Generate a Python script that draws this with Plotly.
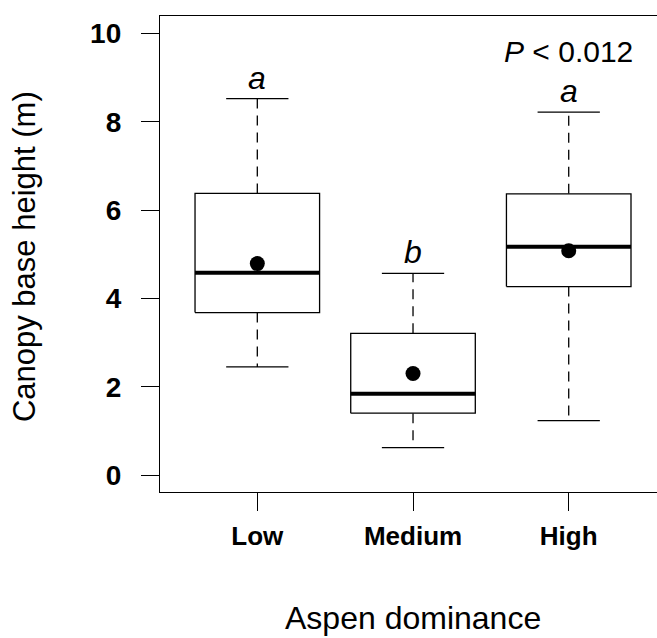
import plotly.graph_objects as go

# Data
categories = ["Low", "Medium", "High"]
lower_whisker = [2.45, 0.62, 1.23]
q1 = [3.68, 1.40, 4.27]
median = [4.58, 1.84, 5.17]
q3 = [6.38, 3.21, 6.37]
upper_whisker = [8.53, 4.57, 8.22]
means = [4.79, 2.30, 5.08]
letters = ["a", "b", "a"]
y_ticks = [0, 2, 4, 6, 8, 10]

BOXW = 0.4   # half box width
CAPW = 0.2   # half cap width

fig = go.Figure()
for i, cat in enumerate(categories):
    x = i + 1
    # dashed whiskers
    fig.add_trace(go.Scatter(x=[x, x, None, x, x],
                             y=[q3[i], upper_whisker[i], None, q1[i], lower_whisker[i]],
                             mode="lines", line=dict(color="black", width=1.3, dash="10px,7px"),
                             hoverinfo="skip", showlegend=False))
    # caps
    fig.add_trace(go.Scatter(x=[x - CAPW, x + CAPW, None, x - CAPW, x + CAPW],
                             y=[upper_whisker[i], upper_whisker[i], None, lower_whisker[i], lower_whisker[i]],
                             mode="lines", line=dict(color="black", width=1.3),
                             hoverinfo="skip", showlegend=False))
    # box
    fig.add_trace(go.Scatter(x=[x - BOXW, x + BOXW, x + BOXW, x - BOXW, x - BOXW],
                             y=[q1[i], q1[i], q3[i], q3[i], q1[i]],
                             mode="lines", line=dict(color="black", width=1.3),
                             fill="toself", fillcolor="white",
                             hoverinfo="skip", showlegend=False))
    # median
    fig.add_trace(go.Scatter(x=[x - BOXW, x + BOXW], y=[median[i], median[i]],
                             mode="lines", line=dict(color="black", width=4),
                             hoverinfo="skip", showlegend=False))

# means
fig.add_trace(go.Scatter(x=[1, 2, 3], y=means, mode="markers",
                         marker=dict(color="black", size=15), showlegend=False))

font_family = "Liberation Sans, Arial, sans-serif"

for i, lt in enumerate(letters):
    fig.add_annotation(x=i + 1, y=upper_whisker[i], text="<i>%s</i>" % lt,
                       showarrow=False, yanchor="bottom", yshift=1,
                       font=dict(size=32, family=font_family, color="black"))

fig.add_annotation(x=3, y=9.6, text="<i>P</i> < 0.012", showarrow=False,
                   yanchor="middle", font=dict(size=30, family=font_family, color="black"))

fig.add_annotation(x=2, y=0, yref="paper", text="Aspen dominance", showarrow=False,
                   yanchor="middle", yshift=-126, borderpad=0,
                   font=dict(size=32, family=font_family, color="black"))

fig.add_annotation(x=0, xref="paper", y=5.05, text="Canopy base height (m)", showarrow=False,
                   textangle=-90, xanchor="center", yanchor="middle", xshift=-136, yshift=-5,
                   font=dict(size=31, family=font_family, color="black"))

fig.update_layout(
    width=657, height=638,
    margin=dict(l=160, r=0, t=16, b=146),
    plot_bgcolor="white", paper_bgcolor="white",
    font=dict(family=font_family, color="black"),
)
fig.update_xaxes(range=[0.375, 3.567], tickvals=[1, 2, 3], ticktext=categories,
                 showline=True, mirror=True, linecolor="black", linewidth=1.3,
                 ticks="outside", ticklen=18, tickwidth=1.3, tickcolor="black",
                 showgrid=False, zeroline=False, ticklabelstandoff=3,
                 tickfont=dict(size=26, family=font_family, weight="bold"))
fig.update_yaxes(range=[-0.385, 10.4], tickvals=y_ticks,
                 showline=True, mirror=False, linecolor="black", linewidth=1.3,
                 ticks="outside", ticklen=18, tickwidth=1.3, tickcolor="black",
                 showgrid=False, zeroline=False, ticklabelstandoff=14,
                 tickfont=dict(size=28, family=font_family, weight="bold"))

fig.write_html("out.html")
